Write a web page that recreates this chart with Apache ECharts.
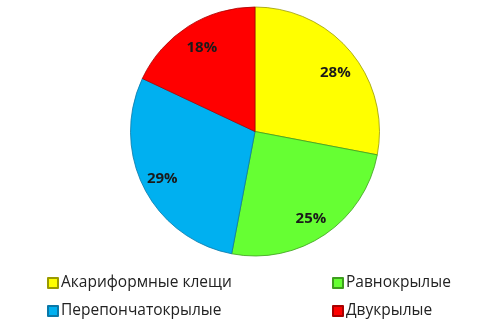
<!DOCTYPE html>
<html><head><meta charset="utf-8">
<script src="https://cdn.jsdelivr.net/npm/echarts@6/dist/echarts.min.js"></script>
<style>html,body{margin:0;padding:0;background:#fff}#c{width:489px;height:329px}</style>
</head><body><div id="c"></div>
<script>
var categories = ['Акариформные клещи', 'Равнокрылые', 'Перепончатокрылые', 'Двукрылые'];
var values = [28, 25, 29, 18];
var colors = ['#FFFF00', '#66FF33', '#00B0F0', '#FF0000'];
var borders = ['#9A9A00', '#3E9E1E', '#0A78A8', '#A80000'];

var data = categories.map(function(n, i){
  return {name: n, value: values[i], itemStyle: {color: colors[i], borderColor: borders[i], borderWidth: 0.8}};
});

function buildLabels(){
  var nudges = [[1, 7], [-2, 2], [-1, 0], [2, 3]];
  return categories.map(function(n, i){
    return {name: n, value: values[i], label: {offset: nudges[i]}};
  });
}

function leg(name, left, top){
  return {left: left, top: top, padding: 0, itemWidth: 10, itemHeight: 10, icon: 'rect',
    data: [name], selectedMode: false,
    textStyle: {fontFamily: 'Open Sans', fontSize: 15.5, lineHeight: 16, color: '#222', padding: [0,0,0,-2]}};
}

var chart = echarts.init(document.getElementById('c'), null, {renderer: 'canvas'});
chart.setOption({
  animation: false,
  legend: [
    leg(categories[0], 47, 275),
    leg(categories[1], 332, 275),
    leg(categories[2], 47, 303),
    leg(categories[3], 332, 303)
  ],
  series: [
    {type: 'pie', center: [255, 131.5], radius: [0, 124.5], startAngle: 90, clockwise: true,
     label: {show: false}, labelLine: {show: false}, data: data, silent: true},
    {type: 'pie', center: [255, 131.5], radius: [76, 124], startAngle: 90, clockwise: true,
     itemStyle: {color: 'rgba(0,0,0,0)', borderWidth: 0}, silent: true,
     label: {show: true, position: 'inside', formatter: '{c}%', fontFamily: 'Open Sans', fontWeight: 'bold', fontSize: 15, color: '#1a1a1a'},
     labelLine: {show: false}, data: buildLabels(), legendHoverLink: false}
  ]
});
</script></body></html>
